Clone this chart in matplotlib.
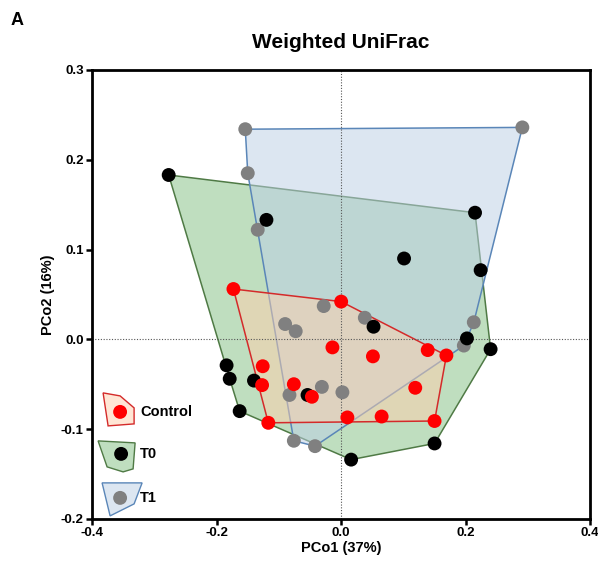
import numpy as np
import matplotlib.pyplot as plt
from matplotlib.patches import Polygon

plt.rcParams["font.family"] = ["Liberation Sans", "DejaVu Sans"]
plt.rcParams["font.weight"] = "bold"

# PCoA coordinates
control_x = [-0.173, 0.000, -0.014, -0.126, -0.127, -0.076, -0.047, -0.117,
             0.010, 0.051, 0.139, 0.169, 0.119, 0.065, 0.150]
control_y = [0.056, 0.042, -0.009, -0.030, -0.051, -0.050, -0.064, -0.093,
             -0.087, -0.019, -0.012, -0.018, -0.054, -0.086, -0.091]

t0_x = [-0.277, -0.120, 0.215, 0.101, 0.224, -0.184, -0.179, -0.140,
        -0.163, -0.054, 0.052, 0.202, 0.240, 0.150, 0.016]
t0_y = [0.183, 0.133, 0.141, 0.090, 0.077, -0.029, -0.044, -0.046,
        -0.080, -0.062, 0.014, 0.001, -0.011, -0.116, -0.134]

t1_x = [-0.154, -0.150, -0.134, 0.291, -0.028, -0.090, -0.073, -0.031,
        -0.083, 0.002, -0.076, -0.042, 0.038, 0.213, 0.197]
t1_y = [0.234, 0.185, 0.122, 0.236, 0.037, 0.017, 0.009, -0.053,
        -0.062, -0.059, -0.113, -0.119, 0.024, 0.019, -0.007]

groups = ["Control", "T0", "T1"]
dot_colors = {"Control": "#ff0000", "T0": "#000000", "T1": "#808080"}
edge_colors = {"Control": "#d42a2a", "T0": "#4f7a45", "T1": "#5a86b8"}
fill_colors = {"Control": (1.0, 0.81, 0.68, 0.5),
               "T0": (0.75, 0.87, 0.75, 1.0),
               "T1": (0.74, 0.81, 0.90, 0.52)}


def convex_hull(xs, ys):
    pts = sorted(set(zip(xs, ys)))

    def cross(o, a, b):
        return (a[0] - o[0]) * (b[1] - o[1]) - (a[1] - o[1]) * (b[0] - o[0])

    lower, upper = [], []
    for p in pts:
        while len(lower) >= 2 and cross(lower[-2], lower[-1], p) <= 0:
            lower.pop()
        lower.append(p)
    for p in reversed(pts):
        while len(upper) >= 2 and cross(upper[-2], upper[-1], p) <= 0:
            upper.pop()
        upper.append(p)
    return np.array(lower[:-1] + upper[:-1])


fig = plt.figure(figsize=(5.98, 5.64), dpi=100)
ax = fig.add_axes([0.154, 0.080, 0.833, 0.796])

data = {"Control": (control_x, control_y), "T0": (t0_x, t0_y), "T1": (t1_x, t1_y)}

# hulls: green, blue, then red on top (each fill covers the lines beneath it)
for i, name in enumerate(["T0", "T1", "Control"]):
    hull = convex_hull(*data[name])
    ax.add_patch(Polygon(hull, closed=True, facecolor=fill_colors[name],
                         edgecolor="none", zorder=1 + i * 0.1))
    ax.add_patch(Polygon(hull, closed=True, facecolor="none",
                         edgecolor=edge_colors[name], lw=1.1, zorder=1.05 + i * 0.1))

ax.axhline(0, color="#555555", ls=(0, (1, 1.5)), lw=0.8, zorder=1.5)
ax.axvline(0, color="#555555", ls=(0, (1, 1.5)), lw=0.8, zorder=1.5)

for name, z in [("T1", 3), ("T0", 4), ("Control", 5)]:
    ax.scatter(*data[name], s=100, color=dot_colors[name], edgecolors="none", zorder=z)

# legend glyphs drawn in axes fraction
def px(x, y):
    return ((x - 92) / 498, (519 - y) / 449)

legend_shapes = {
    "Control": [(103, 393), (120, 396), (134, 408), (134, 424), (108, 426)],
    "T0": [(98, 441), (135, 443), (133, 469), (123, 472), (107, 467)],
    "T1": [(102, 483), (142, 483), (134, 504), (110, 516)],
}
legend_dots = {"Control": (120, 412), "T0": (121, 454), "T1": (120, 498)}
for name in groups:
    shape = [px(*p) for p in legend_shapes[name]]
    ax.add_patch(Polygon(shape, closed=True, facecolor=fill_colors[name],
                         edgecolor=edge_colors[name], lw=1.0,
                         transform=ax.transAxes, zorder=6))
    dx, dy = px(*legend_dots[name])
    ax.scatter([dx], [dy], s=100, color=dot_colors[name], edgecolors="none",
               transform=ax.transAxes, zorder=7)
    ax.text(px(140, 0)[0], dy, name, transform=ax.transAxes, fontsize=10.5,
            fontweight="bold", va="center", ha="left", zorder=7)

ax.set_xlim(-0.4, 0.4)
ax.set_ylim(-0.2, 0.3)
ax.set_xticks([-0.4, -0.2, 0.0, 0.2, 0.4])
ax.set_yticks([-0.2, -0.1, 0.0, 0.1, 0.2, 0.3])
ax.set_xticklabels(["-0.4", "-0.2", "0.0", "0.2", "0.4"])
ax.set_yticklabels(["-0.2", "-0.1", "0.0", "0.1", "0.2", "0.3"])
ax.tick_params(width=1.8, length=4, labelsize=9.5, pad=2)
for lab in ax.get_xticklabels() + ax.get_yticklabels():
    lab.set_fontweight("bold")
for sp in ax.spines.values():
    sp.set_linewidth(2)

ax.set_xlabel("PCo1 (37%)", fontsize=10.5, fontweight="bold", labelpad=1)
ax.set_ylabel("PCo2 (16%)", fontsize=10.5, fontweight="bold", labelpad=4)
ax.set_title("Weighted UniFrac", fontsize=15, fontweight="bold", pad=16)
fig.text(0.017, 0.955, "A", fontsize=13, fontweight="bold")

fig.savefig("out.png", dpi=100)
